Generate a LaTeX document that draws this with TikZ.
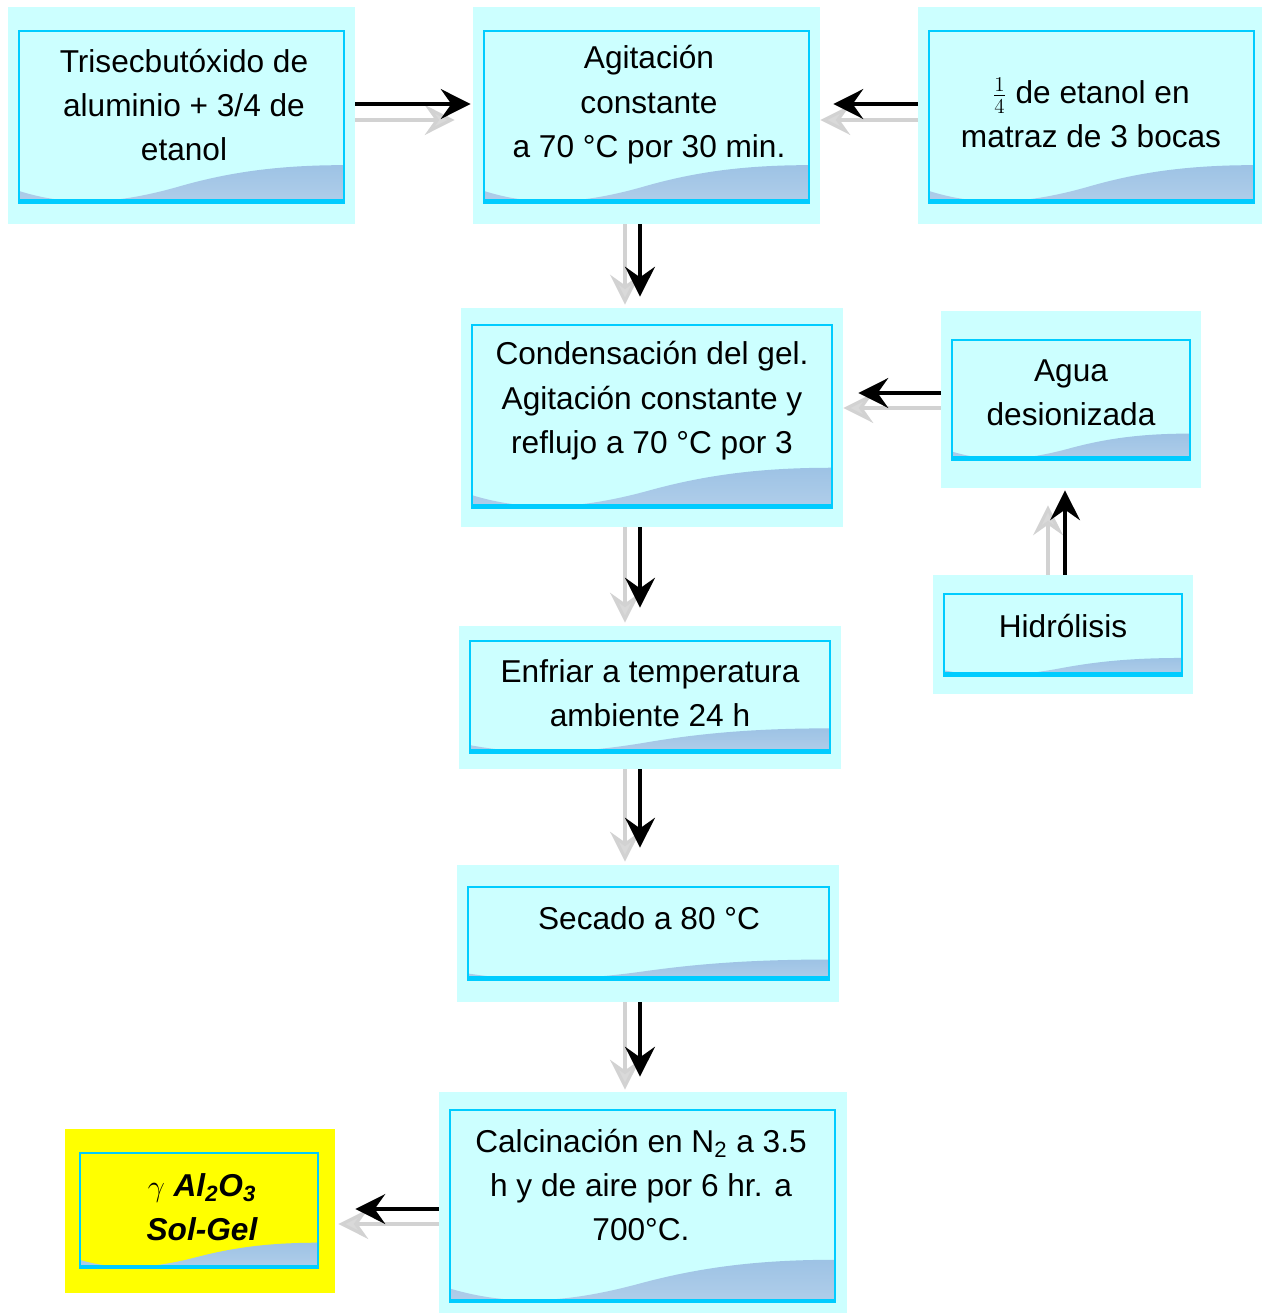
\documentclass[tikz,border=0pt]{standalone}
\usepackage{fontspec}
\setmainfont{Liberation Sans}
\usetikzlibrary{arrows.meta,fit,calc}

\definecolor{panelcyan}{HTML}{CCFFFF}
\definecolor{bordecyan}{HTML}{00CCFF}
\definecolor{olaarriba}{HTML}{5A9AD4}
\definecolor{olaabajo}{HTML}{B2CFEA}
\definecolor{amarillo}{HTML}{FFFF00}

% wave at the foot of each box
\newcommand{\ola}{%
  \shade[top color=olaarriba, bottom color=olaabajo]
    let \p1=(path picture bounding box.south west),
        \p2=(path picture bounding box.north east),
        \n1={\x2-\x1}, \n2={\y2-\y1} in
    (\x1,\y1+0.07*\n2) .. controls (\x1+0.15*\n1,\y1-0.02*\n2) and (\x1+0.3*\n1,\y1-0.01*\n2) .. (\x1+0.5*\n1,\y1+0.1*\n2)
    .. controls (\x1+0.65*\n1,\y1+0.18*\n2) and (\x1+0.8*\n1,\y1+0.22*\n2) .. (\x2,\y1+0.22*\n2)
    -- (\x2,\y1) -- (\x1,\y1) -- cycle;
  \draw[bordecyan, line width=4pt] (path picture bounding box.south west) -- (path picture bounding box.south east);
}

\begin{document}
\begin{tikzpicture}[
    x=0.02cm, y=-0.02cm,
    panel/.style={rectangle, fill=panelcyan, inner sep=0pt},
    caja/.style={rectangle, draw=bordecyan, line width=0.7pt, fill=panelcyan, inner sep=0pt, path picture={\ola}},
    texto/.style={align=center, font=\fontsize{18}{25.3}\selectfont},
    negra/.style={draw, line width=1.8pt, -{Stealth[length=17pt, width=17pt, inset=6pt]}},
    gris/.style={draw=gray!35, line width=1.8pt, -{Stealth[length=17pt, width=17pt, inset=6pt, fill=gray!30]}}
]
    \useasboundingbox (0,0) rectangle (1262,1314);

    % Panels
    \node [panel, fit={(8,7) (355,224)}] (trisec) {};
    \node [caja, fit={(19,31) (344,203)}] (trisecin) {};
    \node [texto] (trisectxt) at (184,105) {Trisecbutóxido de\\aluminio + 3/4 de\\etanol};

    \node [panel, fit={(473,7) (820,224)}] (agit) {};
    \node [caja, fit={(484,31) (809,203)}] (agitin) {};
    \node [texto] (agittxt) at (649,105) {Agitación\\constante\\a 70 °C por 30 min.};

    \node [panel, fit={(918,7) (1262,224)}] (cuarto) {};
    \node [caja, fit={(929,31) (1254,203)}] (cuartoin) {};
    \node [texto] (cuartotxt) at (1091,113) {$\frac{1}{4}$ de etanol en\\matraz de 3 bocas};

    \node [panel, fit={(461,308) (843,527)}] (cond) {};
    \node [caja, fit={(472,325) (832,508)}] (condin) {};
    \node [texto] (condtxt) at (652,401) {Condensación del gel.\\Agitación constante y\\reflujo a 70 °C por 3};

    \node [panel, fit={(941,311) (1201,488)}] (agua) {};
    \node [caja, fit={(952,340) (1190,460)}] (aguain) {};
    \node [texto] (aguatxt) at (1071,393) {Agua\\desionizada};

    \node [panel, fit={(933,575) (1193,694)}] (hidr) {};
    \node [caja, fit={(944,594) (1182,676)}] (hidrin) {};
    \node [texto] (hidrtxt) at (1063,626) {Hidrólisis};

    \node [panel, fit={(459,626) (841,769)}] (enfr) {};
    \node [caja, fit={(470,641) (830,753)}] (enfrin) {};
    \node [texto] (enfrtxt) at (650,693) {Enfriar a temperatura\\ambiente 24 h};

    \node [panel, fit={(457,865) (839,1002)}] (seca) {};
    \node [caja, fit={(468,887) (829,980)}] (secain) {};
    \node [texto] (secatxt) at (649,918) {Secado a 80 °C};

    \node [panel, fit={(439,1092) (847,1313)}] (calc) {};
    \node [caja, fit={(450,1110) (835,1302)}] (calcin) {};
    \node [texto] (calctxt) at (641,1185) {Calcinación en N\textsubscript{2} a 3.5\\h y de aire por 6 hr. a\\700°C.};

    \node [panel, fill=amarillo, fit={(65,1129) (335,1293)}] (alumina) {};
    \node [caja, fill=amarillo, fit={(80,1153) (318,1268)}] (aluminain) {};
    \node [texto, font=\fontsize{18}{25.3}\selectfont\bfseries\itshape] (aluminatxt) at (202,1207) {$\gamma$ Al\textsubscript{2}O\textsubscript{3}\\Sol-Gel};

    % Arrows
    \path [gris, shorten >=0.36cm] ([yshift=-0.09cm]trisec.east) -- ([yshift=-0.09cm]agit.west);
    \path [negra, shorten >=0.04cm] ([yshift=0.23cm]trisec.east) -- ([yshift=0.23cm]agit.west);
    \path [gris] ([yshift=-0.09cm]cuarto.west) -- ([yshift=-0.09cm]agit.east);
    \path [negra, shorten >=0.26cm] ([yshift=0.23cm]cuarto.west) -- ([yshift=0.23cm]agit.east);
    \path [gris, shorten >=0.06cm] ([xshift=-0.43cm]agit.south) -- ([xshift=-0.43cm]agit.south |- cond.north);
    \path [negra, shorten >=0.22cm] ([xshift=-0.13cm]agit.south) -- ([xshift=-0.13cm]agit.south |- cond.north);
    \path [gris] ([yshift=-0.17cm]agua.west) -- ([yshift=-0.17cm]agua.west -| cond.east);
    \path [negra, shorten >=0.3cm] ([yshift=0.13cm]agua.west) -- ([yshift=0.13cm]agua.west -| cond.east);
    \path [gris, shorten >=0.34cm] ([xshift=-0.3cm]hidr.north) -- ([xshift=-0.3cm]hidr.north |- agua.south);
    \path [negra, shorten >=0.04cm] ([xshift=0.04cm]hidr.north) -- ([xshift=0.04cm]hidr.north |- agua.south);
    \path [gris, shorten >=0.06cm] ([xshift=-0.54cm]cond.south) -- ([xshift=-0.54cm]cond.south |- enfr.north);
    \path [negra, shorten >=0.36cm] ([xshift=-0.24cm]cond.south) -- ([xshift=-0.24cm]cond.south |- enfr.north);
    \path [gris, shorten >=0.06cm] ([xshift=-0.5cm]enfr.south) -- ([xshift=-0.5cm]enfr.south |- seca.north);
    \path [negra, shorten >=0.34cm] ([xshift=-0.2cm]enfr.south) -- ([xshift=-0.2cm]enfr.south |- seca.north);
    \path [gris, shorten >=0.04cm] ([xshift=-0.46cm]seca.south) -- ([xshift=-0.46cm]seca.south |- calc.north);
    \path [negra, shorten >=0.3cm] ([xshift=-0.16cm]seca.south) -- ([xshift=-0.16cm]seca.south |- calc.north);
    \path [gris, shorten >=0.06cm] ([yshift=-0.43cm]calc.west) -- ([yshift=-0.43cm]calc.west -| alumina.east);
    \path [negra, shorten >=0.4cm] ([yshift=-0.13cm]calc.west) -- ([yshift=-0.13cm]calc.west -| alumina.east);

\end{tikzpicture}
\end{document}
